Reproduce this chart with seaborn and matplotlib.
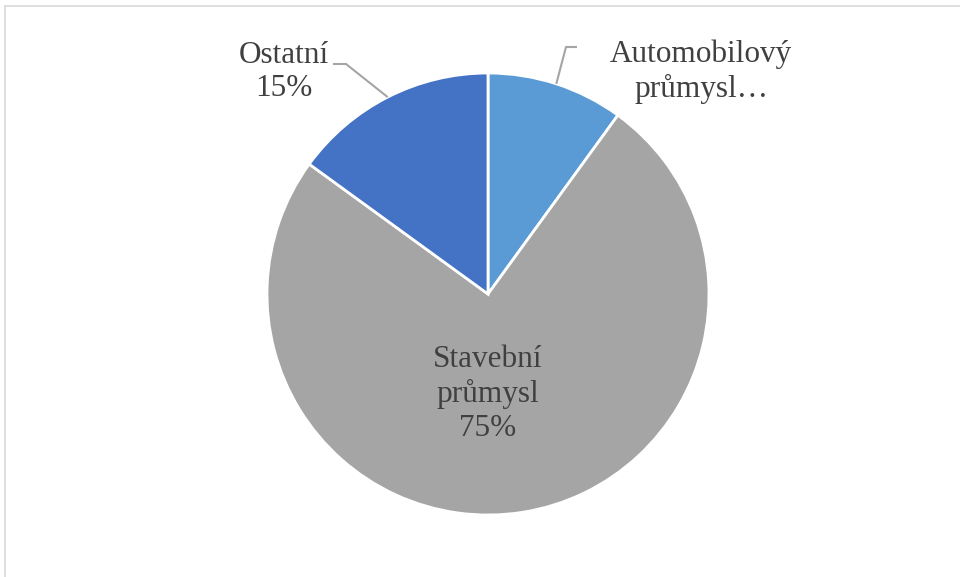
import numpy as np
import matplotlib
matplotlib.use("Agg")
import matplotlib.pyplot as plt
import seaborn as sns

categories = ["Automobilový průmysl", "Stavební průmysl", "Ostatní"]
values = [10, 75, 15]
labels = ["Automobilový\nprůmysl…", "Stavební\nprůmysl\n75%", "Ostatní\n15%"]
colors = ["#5B9BD5", "#A5A5A5", "#4472C4"]

sns.set_theme(style="white")
plt.rcParams['font.family'] = ['Liberation Serif', 'DejaVu Serif']

W, H = 960, 577
fig = plt.figure(figsize=(W / 100, H / 100), dpi=100)
ax = fig.add_axes([0, 0, 1, 1])
ax.set_xlim(0, W)
ax.set_ylim(0, H)
ax.set_aspect('equal')
ax.axis('off')

cx, cy, r = 488, H - 294, 221
wedges, _ = ax.pie(values, colors=colors, startangle=90, counterclock=False,
                   center=(cx, cy), radius=r, frame=True,
                   wedgeprops=dict(edgecolor='white', linewidth=2))
ax.set_xlim(0, W)
ax.set_ylim(0, H)
ax.axis('off')

txt_color = "#404040"
fs = 22.5
# Stavební label inside
ax.text(488, H - 394, labels[1], ha='center', va='center', fontsize=fs,
        color=txt_color, linespacing=1.2)
# Automobilový
ax.text(701, H - 72, labels[0], ha='center', va='center', fontsize=fs,
        color=txt_color, linespacing=1.2)
# Ostatní
ax.text(284, H - 72, labels[2], ha='center', va='center', fontsize=fs,
        color=txt_color, linespacing=1.2)

# leader lines from wedge mid-angles
cum = np.cumsum([0] + values)
tot = sum(values)
def edge_point(i):
    mid = 90 - 360 * (cum[i] + values[i] / 2) / tot
    a = np.deg2rad(mid)
    return cx + r * np.cos(a), cy + r * np.sin(a)

x0, y0 = edge_point(0)
ax.plot([x0, 566, 577], [y0, H - 47, H - 47], color="#A5A5A5", lw=1.5,
        solid_capstyle='butt')
x2, y2 = edge_point(2)
ax.plot([x2, 346, 333], [y2, H - 64, H - 64], color="#A5A5A5", lw=1.5,
        solid_capstyle='butt')

# chart border (top and left visible)
ax.plot([4.5, W], [H - 5.5, H - 5.5], color="#D9D9D9", lw=1.2)
ax.plot([4.5, 4.5], [0, H - 5.5], color="#D9D9D9", lw=1.2)

fig.savefig("out.png", dpi=100)
